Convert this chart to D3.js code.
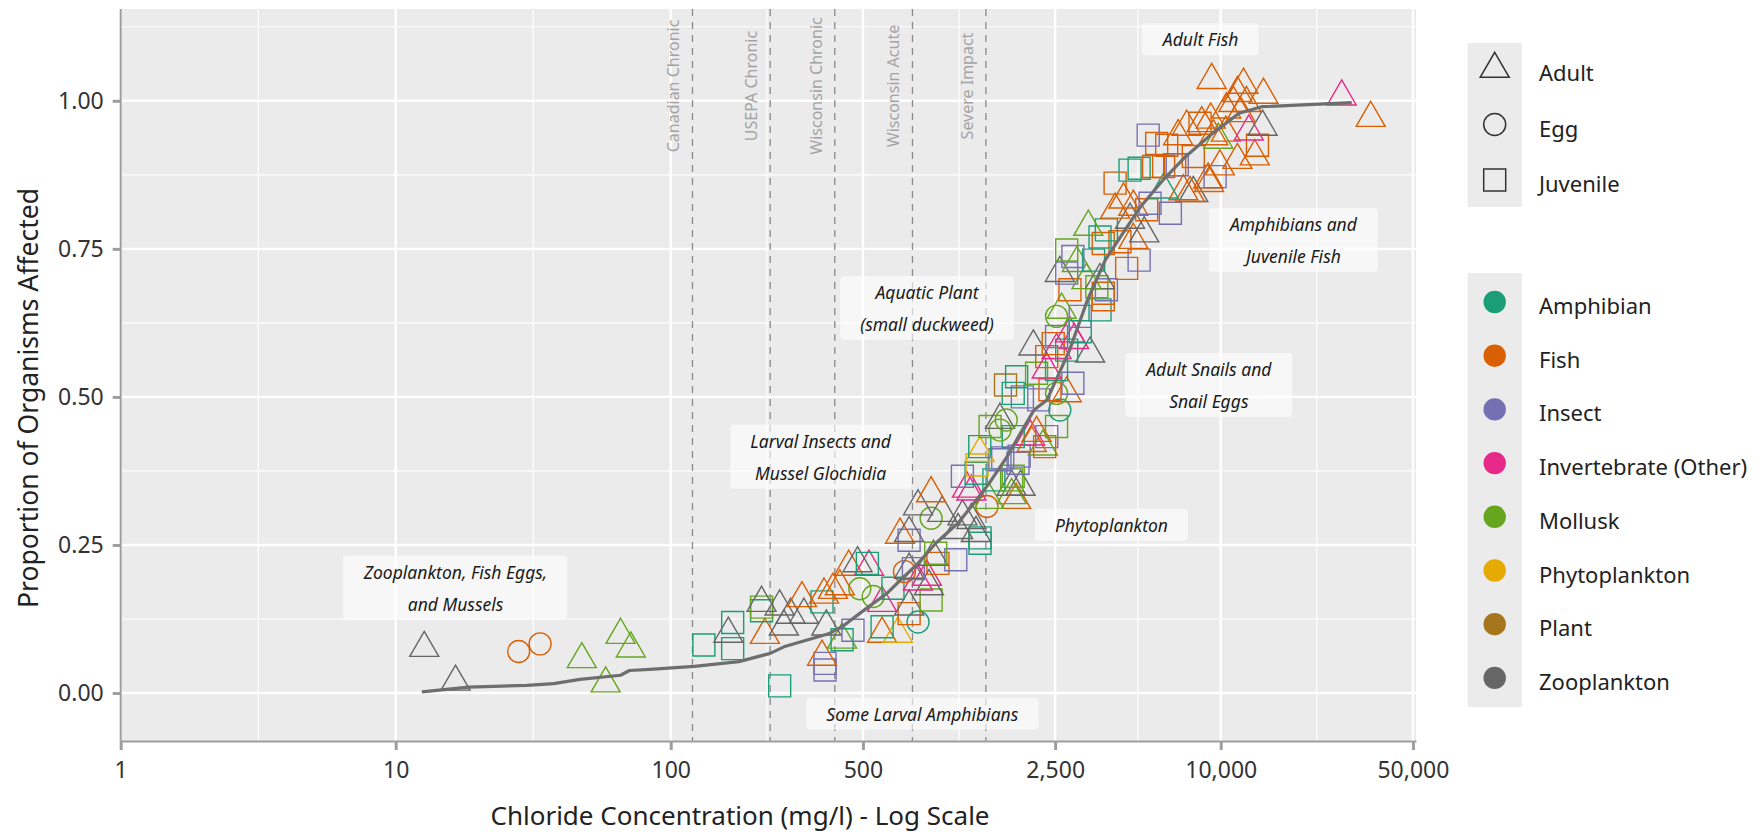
<!DOCTYPE html>
<meta charset="utf-8">
<style>
  body { margin: 0; background: #fff; }
  svg text { font-family: 'Noto Sans', 'Open Sans', sans-serif; }
</style>
<svg width="1761" height="836"></svg>
<script src="https://cdn.jsdelivr.net/npm/d3@7/dist/d3.min.js"></script>
<script>

var groups = ["Amphibian", "Fish", "Insect", "Invertebrate (Other)", "Mollusk", "Phytoplankton", "Plant", "Zooplankton"];
var groupColors = ["#1b9e77", "#d95f02", "#7570b3", "#e7298a", "#66a61e", "#e6ab02", "#a6761d", "#666666"];
var stages = ["Adult", "Egg", "Juvenile"];

// [chloride mg/l, proportion affected, group]
var adultPoints = [
  [12.7,0.076,"Zooplankton"],[16.5,0.019,"Zooplankton"],[162,0.100,"Zooplankton"],[214,0.152,"Zooplankton"],
  [249,0.146,"Zooplankton"],[273,0.132,"Zooplankton"],[258,0.112,"Zooplankton"],[305,0.132,"Zooplankton"],
  [368,0.112,"Zooplankton"],[478,0.219,"Zooplankton"],[736,0.146,"Zooplankton"],[736,0.208,"Zooplankton"],
  [869,0.180,"Zooplankton"],[903,0.230,"Zooplankton"],[736,0.270,"Zooplankton"],[793,0.315,"Zooplankton"],
  [971,0.304,"Zooplankton"],[1109,0.275,"Zooplankton"],[1151,0.298,"Zooplankton"],[1240,0.292,"Zooplankton"],
  [1288,0.270,"Zooplankton"],[1737,0.348,"Zooplankton"],[1871,0.348,"Zooplankton"],[1575,0.461,"Zooplankton"],
  [2083,0.585,"Zooplankton"],[3350,0.573,"Zooplankton"],[2600,0.709,"Zooplankton"],[3640,0.697,"Zooplankton"],
  [4680,0.799,"Zooplankton"],[5270,0.776,"Zooplankton"],[7950,0.844,"Zooplankton"],[14200,0.956,"Zooplankton"],
  [220,0.098,"Fish"],[300,0.160,"Fish"],[361,0.166,"Fish"],[389,0.174,"Fish"],[412,0.180,"Fish"],
  [444,0.213,"Fish"],[355,0.061,"Fish"],[587,0.100,"Fish"],[682,0.267,"Fish"],[885,0.337,"Fish"],
  [1803,0.326,"Fish"],[2055,0.422,"Fish"],[2140,0.439,"Fish"],[2754,0.506,"Fish"],[4130,0.816,"Fish"],
  [4430,0.833,"Fish"],[4812,0.821,"Fish"],[4812,0.765,"Fish"],[7314,0.847,"Fish"],[9070,0.861,"Fish"],
  [7000,0.940,"Fish"],[9400,0.940,"Fish"],[8530,0.962,"Fish"],[9200,0.968,"Fish"],[7520,0.956,"Fish"],
  [9270,1.035,"Fish"],[12100,1.027,"Fish"],[11500,1.013,"Fish"],[14300,1.010,"Fish"],[11120,0.996,"Fish"],
  [12400,0.996,"Fish"],[10480,0.985,"Fish"],[11800,0.979,"Fish"],[13300,0.906,"Fish"],[11500,0.900,"Fish"],
  [9930,0.889,"Fish"],[9000,0.867,"Fish"],[7730,0.844,"Fish"],[10440,0.946,"Fish"],[35100,0.971,"Fish"],
  [526,0.213,"Invertebrate (Other)"],[587,0.152,"Invertebrate (Other)"],[793,0.188,"Invertebrate (Other)"],
  [854,0.196,"Invertebrate (Other)"],[1195,0.345,"Invertebrate (Other)"],[1240,0.340,"Invertebrate (Other)"],
  [2030,0.433,"Invertebrate (Other)"],[2330,0.546,"Invertebrate (Other)"],[2530,0.579,"Invertebrate (Other)"],
  [2830,0.607,"Invertebrate (Other)"],[2930,0.596,"Invertebrate (Other)"],[12650,0.948,"Invertebrate (Other)"],
  [27540,1.007,"Invertebrate (Other)"],
  [47.5,0.057,"Mollusk"],[58,0.016,"Mollusk"],[65.7,0.098,"Mollusk"],[71.6,0.075,"Mollusk"],[420,0.090,"Mollusk"],
  [1438,0.326,"Mollusk"],[1737,0.334,"Mollusk"],[2256,0.416,"Mollusk"],[2640,0.647,"Mollusk"],[3250,0.697,"Mollusk"],
  [3000,0.726,"Mollusk"],[3300,0.787,"Mollusk"],[9800,0.934,"Mollusk"],
  [6200,0.850,"Amphibian"],
  [670,0.100,"Phytoplankton"],[1330,0.405,"Phytoplankton"]
];

var eggPoints = [
  [28,0.070,"Fish"],[33.5,0.083,"Fish"],[708,0.205,"Fish"],[1413,0.315,"Fish"],
  [487,0.176,"Mollusk"],[545,0.163,"Mollusk"],[885,0.295,"Mollusk"],[1575,0.444,"Mollusk"],
  [1660,0.461,"Mollusk"],[2530,0.506,"Mollusk"],[2530,0.636,"Mollusk"],
  [793,0.120,"Amphibian"],[2600,0.478,"Amphibian"]
];

var juvenilePoints = [
  [132,0.081,"Amphibian"],[168,0.119,"Amphibian"],[168,0.075,"Amphibian"],[214,0.139,"Amphibian"],
  [249,0.012,"Amphibian"],[355,0.154,"Amphibian"],[420,0.090,"Amphibian"],[519,0.219,"Amphibian"],
  [587,0.112,"Amphibian"],[643,0.177,"Amphibian"],[1333,0.253,"Amphibian"],[1333,0.262,"Amphibian"],
  [1497,0.360,"Amphibian"],[1290,0.371,"Amphibian"],[1330,0.416,"Amphibian"],[1760,0.433,"Amphibian"],
  [1760,0.506,"Amphibian"],[1811,0.534,"Amphibian"],[2530,0.546,"Amphibian"],[2754,0.579,"Amphibian"],
  [3085,0.610,"Amphibian"],[3640,0.647,"Amphibian"],[3450,0.731,"Amphibian"],[3640,0.770,"Amphibian"],
  [3840,0.782,"Amphibian"],[4680,0.883,"Amphibian"],[5050,0.886,"Amphibian"],
  [736,0.134,"Fish"],[937,0.219,"Fish"],[2290,0.416,"Fish"],[2394,0.512,"Fish"],[2330,0.568,"Fish"],
  [2460,0.590,"Fish"],[2830,0.681,"Fish"],[3740,0.664,"Fish"],[3740,0.675,"Fish"],[4550,0.717,"Fish"],
  [3740,0.759,"Fish"],[4300,0.762,"Fish"],[5380,0.816,"Fish"],[4130,0.861,"Fish"],[5700,0.889,"Fish"],
  [6200,0.889,"Fish"],[6800,0.892,"Fish"],[7950,0.906,"Fish"],[5850,0.928,"Fish"],[6362,0.925,"Fish"],
  [8410,0.962,"Fish"],[13600,0.925,"Fish"],
  [364,0.050,"Insect"],[364,0.039,"Insect"],[460,0.106,"Insect"],[763,0.210,"Insect"],[1088,0.225,"Insect"],
  [736,0.258,"Insect"],[1150,0.366,"Insect"],[1575,0.394,"Insect"],[1612,0.397,"Insect"],[1832,0.388,"Insect"],
  [1850,0.400,"Insect"],[2330,0.433,"Insect"],[2180,0.495,"Insect"],[1900,0.500,"Insect"],[2900,0.523,"Insect"],
  [2530,0.602,"Insect"],[3085,0.636,"Insect"],[3840,0.681,"Insect"],[2754,0.709,"Insect"],[2900,0.737,"Insect"],
  [5050,0.731,"Insect"],[5534,0.827,"Insect"],[6560,0.810,"Insect"],[6950,0.892,"Insect"],[9540,0.872,"Insect"],
  [5450,0.942,"Insect"],
  [214,0.145,"Mollusk"],[885,0.157,"Mollusk"],[920,0.236,"Mollusk"],[1737,0.360,"Mollusk"],[1760,0.366,"Mollusk"],
  [1450,0.450,"Mollusk"],[2530,0.450,"Mollusk"],[2140,0.540,"Mollusk"],[3545,0.686,"Mollusk"],[2754,0.748,"Mollusk"],
  [1300,0.385,"Phytoplankton"],
  [1650,0.520,"Plant"]
];

// cumulative proportion curve
var curveConc = [12.45, 18.4, 30, 37.5, 46.8, 65.7, 70.8, 84, 122, 177, 230, 258, 375, 420, 505, 610, 682, 793,
  920, 1109, 1240, 1438, 1672, 1871, 2095, 2336, 2821, 3279, 3802, 4416, 5130, 6190, 7460, 9340, 11660, 14090, 29950];
var curveProp = [0.002, 0.010, 0.013, 0.016, 0.023, 0.030, 0.038, 0.040, 0.045, 0.053, 0.067, 0.078, 0.100, 0.112,
  0.140, 0.168, 0.190, 0.219, 0.253, 0.287, 0.315, 0.354, 0.399, 0.439, 0.478, 0.495, 0.579, 0.664, 0.731, 0.777,
  0.822, 0.867, 0.906, 0.945, 0.979, 0.990, 0.997];

var xTicks = [1, 10, 100, 500, 2500, 10000, 50000];
var yTicks = [0, 0.25, 0.5, 0.75, 1];

var thresholdNames = ["Canadian Chronic", "USEPA Chronic", "Wisconsin Chronic", "Wisconsin Acute", "Severe Impact"];
var thresholdValues = [120, 230, 395, 757, 1400];

var noteLines = [["Adult Fish"], ["Amphibians and", "Juvenile Fish"], ["Aquatic Plant", "(small duckweed)"],
  ["Adult Snails and", "Snail Eggs"], ["Larval Insects and", "Mussel Glochidia"], ["Phytoplankton"],
  ["Zooplankton, Fish Eggs,", "and Mussels"], ["Some Larval Amphibians"]];
var noteConc = [8450, 18380, 855, 9050, 351, 4005, 16.5, 822];
var noteProp = [1.104, 0.765, 0.650, 0.520, 0.399, 0.284, 0.178, -0.035];

// ---- layout
var svg = d3.select("svg");
var pLeft = 120.7, pRight = 1416, pTop = 9, pBottom = 741;

var x = d3.scaleLog().domain([1, 51300]).range([pLeft, pRight]);
var y = d3.scaleLinear().domain([-0.081, 1.155]).range([pBottom, pTop]);
var color = d3.scaleOrdinal().domain(groups).range(groupColors);
var shape = d3.scaleOrdinal().domain(stages).range([d3.symbolTriangle, d3.symbolCircle, d3.symbolSquare]);
var symbolSize = {Adult: 364, Egg: 380, Juvenile: 484};

svg.append("rect").attr("width", 1761).attr("height", 836).attr("fill", "#fff");
svg.append("rect")
    .attr("x", pLeft).attr("y", pTop)
    .attr("width", pRight - pLeft).attr("height", pBottom - pTop)
    .attr("fill", "#ebebeb");

// grid
var xMinor = d3.pairs(xTicks).map(function(p) { return Math.sqrt(p[0] * p[1]); });
var yMinor = [-0.125, 0.125, 0.375, 0.625, 0.875, 1.125].filter(function(v) { return v > y.domain()[0] && v < y.domain()[1]; });

var grid = svg.append("g").attr("stroke", "#fff");
grid.selectAll(".xminor").data(xMinor).join("line")
    .attr("x1", x).attr("x2", x).attr("y1", pTop).attr("y2", pBottom).attr("stroke-width", 1.2);
grid.selectAll(".yminor").data(yMinor).join("line")
    .attr("y1", y).attr("y2", y).attr("x1", pLeft).attr("x2", pRight).attr("stroke-width", 1.2);
grid.selectAll(".xmajor").data(xTicks).join("line")
    .attr("x1", x).attr("x2", x).attr("y1", pTop).attr("y2", pBottom).attr("stroke-width", 2.4);
grid.selectAll(".ymajor").data(yTicks).join("line")
    .attr("y1", y).attr("y2", y).attr("x1", pLeft).attr("x2", pRight).attr("stroke-width", 2.4);

// threshold lines
var thresholds = thresholdNames.map(function(n, i) { return {name: n, value: thresholdValues[i]}; });
var th = svg.append("g");
th.selectAll("line").data(thresholds).join("line")
    .attr("x1", function(d) { return x(d.value); })
    .attr("x2", function(d) { return x(d.value); })
    .attr("y1", pTop).attr("y2", pBottom)
    .attr("stroke", "#8a8a8a").attr("stroke-width", 1.3)
    .attr("stroke-dasharray", "7,6");
th.selectAll("text").data(thresholds).join("text")
    .attr("transform", function(d) { return "translate(" + (x(d.value) - 19) + "," + y(1.025) + ") rotate(-90)"; })
    .attr("text-anchor", "middle")
    .attr("dominant-baseline", "central")
    .attr("font-size", 16)
    .attr("fill", "#a3a3a3")
    .text(function(d) { return d.name; });

// points
function rows(arr, stage) {
  return arr.map(function(d) { return {conc: d[0], prop: d[1], group: d[2], stage: stage}; });
}
var points = rows(adultPoints, "Adult").concat(rows(eggPoints, "Egg"), rows(juvenilePoints, "Juvenile"));
points.sort(function(a, b) { return a.prop - b.prop; });

svg.append("g").selectAll("path").data(points).join("path")
    .attr("transform", function(d) { return "translate(" + x(d.conc) + "," + y(d.prop) + ")"; })
    .attr("d", function(d) { return d3.symbol().type(shape(d.stage)).size(symbolSize[d.stage])(); })
    .attr("fill", "none")
    .attr("stroke", function(d) { return color(d.group); })
    .attr("stroke-width", 1.4);

// cumulative curve
var curve = curveConc.map(function(c, i) { return [c, curveProp[i]]; });
svg.append("path")
    .datum(curve)
    .attr("fill", "none")
    .attr("stroke", "#6e6e6e")
    .attr("stroke-width", 3.2)
    .attr("stroke-linejoin", "round")
    .attr("d", d3.line().x(function(d) { return x(d[0]); }).y(function(d) { return y(d[1]); }));

// notes
noteLines.forEach(function(lines, i) {
  var g = svg.append("g")
      .attr("transform", "translate(" + x(noteConc[i]) + "," + y(noteProp[i]) + ")");
  var t = g.append("text")
      .attr("text-anchor", "middle")
      .attr("font-size", 17.5)
      .attr("font-style", "italic")
      .attr("fill", "#1a1a1a");
  lines.forEach(function(l, j) {
    t.append("tspan")
        .attr("x", 0)
        .attr("y", (j - (lines.length - 1) / 2) * 32)
        .attr("dominant-baseline", "central")
        .text(l);
  });
  var b = t.node().getBBox();
  g.insert("rect", "text")
      .attr("x", b.x - 20).attr("y", b.y - 4)
      .attr("width", b.width + 40).attr("height", b.height + 8)
      .attr("rx", 4)
      .attr("fill", "#fff").attr("fill-opacity", 0.6);
});

// axes
var xAxis = svg.append("g")
    .attr("transform", "translate(0," + pBottom + ")")
    .call(d3.axisBottom(x).tickValues(xTicks).tickFormat(d3.format(",")).tickSize(9).tickSizeOuter(0).tickPadding(12));
var yAxis = svg.append("g")
    .attr("transform", "translate(" + pLeft + ",0)")
    .call(d3.axisLeft(y).tickValues(yTicks).tickFormat(d3.format(".2f")).tickSize(8).tickSizeOuter(0).tickPadding(9));
[xAxis, yAxis].forEach(function(a) {
  a.attr("font-family", null).attr("font-size", 23);
  a.select(".domain").attr("stroke", "#9e9e9e").attr("stroke-width", 2);
  a.selectAll(".tick line").attr("stroke", "#9e9e9e").attr("stroke-width", 3);
  a.selectAll(".tick text").attr("fill", "#333");
});
yAxis.select(".domain").attr("d", "M0," + pTop + "V" + pBottom);

svg.append("text")
    .attr("x", 740).attr("y", 825)
    .attr("text-anchor", "middle")
    .attr("font-size", 26)
    .attr("fill", "#222")
    .text("Chloride Concentration (mg/l) - Log Scale");
svg.append("text")
    .attr("transform", "translate(28,398) rotate(-90)")
    .attr("text-anchor", "middle")
    .attr("dominant-baseline", "central")
    .attr("font-size", 26.5)
    .attr("fill", "#222")
    .text("Proportion of Organisms Affected");

// legends
var keyX = 1467.7, keyW = 54, labelX = 1539;

svg.append("rect").attr("x", keyX).attr("y", 43).attr("width", keyW).attr("height", 164).attr("fill", "#ebebeb");
var shapeKey = svg.append("g").selectAll("g").data(stages).join("g")
    .attr("transform", function(d, i) { return "translate(0," + (69 + i * 55.5) + ")"; });
shapeKey.append("path")
    .attr("transform", "translate(" + (keyX + keyW / 2) + ",0)")
    .attr("d", function(d) { return d3.symbol().type(shape(d)).size(symbolSize[d])(); })
    .attr("fill", "none").attr("stroke", "#333").attr("stroke-width", 1.5);
shapeKey.append("text")
    .attr("x", labelX).attr("y", 3)
    .attr("dominant-baseline", "central")
    .attr("font-size", 22).attr("fill", "#222")
    .text(function(d) { return d; });

svg.append("rect").attr("x", keyX).attr("y", 273).attr("width", keyW).attr("height", 434).attr("fill", "#ebebeb");
var colorKey = svg.append("g").selectAll("g").data(groups).join("g")
    .attr("transform", function(d, i) { return "translate(0," + (302 + i * 53.7) + ")"; });
colorKey.append("circle")
    .attr("cx", keyX + keyW / 2).attr("r", 11.2)
    .attr("fill", function(d) { return color(d); });
colorKey.append("text")
    .attr("x", labelX).attr("y", 3)
    .attr("dominant-baseline", "central")
    .attr("font-size", 22).attr("fill", "#222")
    .text(function(d) { return d; });

</script>
